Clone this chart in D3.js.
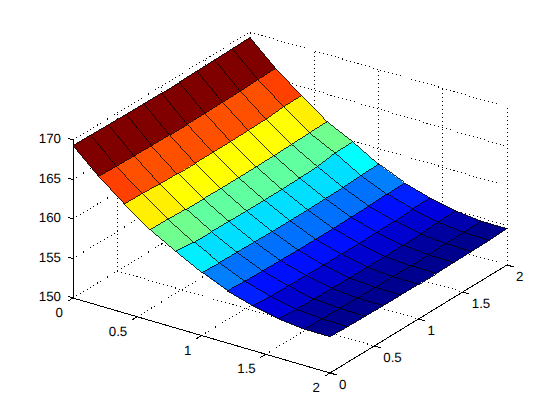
<!DOCTYPE html>
<html>
<head>
<meta charset="utf-8">
<script src="https://cdn.jsdelivr.net/npm/d3@7/dist/d3.min.js"></script>
<style>
html,body{margin:0;padding:0;background:#fff;}
svg{display:block;}
text{font-family:"Liberation Sans",Arial,sans-serif;font-size:13.3px;fill:#000;text-rendering:geometricPrecision;}
</style>
</head>
<body>
<svg id="chart" width="560" height="420"></svg>
<script>
const xValues = [0,0.2,0.4,0.6,0.8,1,1.2,1.4,1.6,1.8,2];
const yValues = [0,0.2,0.4,0.6,0.8,1,1.2,1.4,1.6,1.8,2];
// one row per x value, one column per y value
const zRow0  = [169.3,169.25,169.2,169.15,169.12,169.1,169.12,169.15,169.2,169.25,169.3];
const zRow1  = [166.35,166.25,166.2,166.15,166.12,166.1,166.12,166.15,166.2,166.3,166.35];
const zRow2  = [163.8,163.75,163.6,163.55,163.5,163.5,163.5,163.55,163.6,163.8,163.85];
const zRow3  = [161.5,161.45,161.35,161.3,161.25,161.25,161.25,161.3,161.35,161.45,161.5];
const zRow4  = [159.7,159.5,159.45,159.4,159.35,159.35,159.35,159.4,159.5,159.85,159.9];
const zRow5  = [158.0,157.85,157.8,157.75,157.7,157.7,157.7,157.75,157.8,157.95,158.0];
const zRow6  = [156.6,156.45,156.4,156.35,156.3,156.3,156.3,156.35,156.4,156.55,156.6];
const zRow7  = [155.65,155.5,155.45,155.4,155.35,155.35,155.35,155.4,155.45,155.6,155.65];
const zRow8  = [154.95,154.8,154.75,154.7,154.65,154.65,154.65,154.7,154.75,154.9,154.95];
const zRow9  = [154.6,154.55,154.5,154.45,154.42,154.42,154.42,154.45,154.5,154.55,154.6];
const zRow10 = [154.6,154.5,154.45,154.42,154.4,154.4,154.4,154.42,154.45,154.5,154.6];
const zMatrix = [zRow0,zRow1,zRow2,zRow3,zRow4,zRow5,zRow6,zRow7,zRow8,zRow9,zRow10];
const xTicks = [0,0.5,1,1.5,2];
const yTicks = [0,0.5,1,1.5,2];
const zTicks = [150,155,160,165,170];

// oblique projection built from one linear scale per screen component
const xToPx = d3.scaleLinear().domain([0,2]).range([0,257]);
const xToPy = d3.scaleLinear().domain([0,2]).range([0,75]);
const yToPx = d3.scaleLinear().domain([0,2]).range([0,177]);
const yToPy = d3.scaleLinear().domain([0,2]).range([0,-108]);
const zToPy = d3.scaleLinear().domain([150,170]).range([0,-158]);
const project = (x,y,z) => [73 + xToPx(x) + yToPx(y), 298 + xToPy(x) + yToPy(y) + zToPy(z)];

// jet colormap, 64 levels
const ramp = v => Math.max(0, Math.min(1, v));
const jet64 = d3.range(64).map(i => {
  const t = (i + 1) / 64;
  const r = ramp(Math.min(4*t - 1.5, -4*t + 4.5));
  const g = ramp(Math.min(4*t - 0.5, -4*t + 3.5));
  const b = ramp(Math.min(4*t + 0.5, -4*t + 2.5));
  return d3.rgb(r*255, g*255, b*255).formatHex();
});
const color = d3.scaleQuantize().domain(d3.extent(zMatrix.flat())).range(jet64);

const svg = d3.select("#chart");
const path = pts => "M" + pts.map(p => p.join(",")).join("L");

// dotted grid on the back walls and the floor
const gridLines = [];
zTicks.slice(1).forEach(z => {
  gridLines.push([[0,0,z],[0,2,z]]);
  gridLines.push([[0,2,z],[2,2,z]]);
});
yTicks.slice(1).forEach(y => {
  gridLines.push([[0,y,150],[0,y,170]]);
  gridLines.push([[0,y,150],[2,y,150]]);
});
xTicks.slice(1).forEach(x => {
  gridLines.push([[x,2,150],[x,2,170]]);
});
xTicks.forEach(x => {
  if (x < 2) gridLines.push([[x,0,150],[x,2,150]]);
});
gridLines.push([[0,2,150],[2,2,150]]);
svg.append("g").selectAll("path").data(gridLines).join("path")
  .attr("d", d => path(d.map(p => project(...p))))
  .attr("fill","none").attr("stroke","#000").attr("stroke-width",1)
  .attr("stroke-dasharray","1 3").attr("shape-rendering","crispEdges");

// axes lines
const axisLines = [
  [[0,0,150],[2,0,150]],
  [[2,0,150],[2,2,150]],
  [[0,0,150],[0,0,170]]
];
xTicks.forEach(x => axisLines.push([[x,0,150],[x,-0.06,150]]));
yTicks.forEach(y => axisLines.push([[2,y,150],[2.05,y,150]]));
zTicks.forEach(z => axisLines.push([[0,0,z],[-0.04,0,z]]));
svg.append("g").selectAll("path").data(axisLines).join("path")
  .attr("d", d => path(d.map(p => project(...p))))
  .attr("fill","none").attr("stroke","#000").attr("stroke-width",1)
  .attr("shape-rendering","crispEdges");

// surface patches, far to near; flat colour from the lowest-index corner
const patches = [];
for (let i = 0; i < xValues.length - 1; i++) {
  for (let j = yValues.length - 2; j >= 0; j--) {
    patches.push({i, j});
  }
}
svg.append("g").selectAll("path").data(patches).join("path")
  .attr("d", ({i,j}) => path([
    project(xValues[i],yValues[j],zMatrix[i][j]),
    project(xValues[i+1],yValues[j],zMatrix[i+1][j]),
    project(xValues[i+1],yValues[j+1],zMatrix[i+1][j+1]),
    project(xValues[i],yValues[j+1],zMatrix[i][j+1])
  ]) + "Z")
  .attr("fill", ({i,j}) => color(zMatrix[i][j]))
  .attr("stroke", ({i,j}) => color(zMatrix[i][j])).attr("stroke-width",0.5)
  .attr("shape-rendering","crispEdges");

// mesh lines, each drawn once
const meshLines = [];
xValues.forEach((x,i) => meshLines.push(yValues.map((y,j) => project(x,y,zMatrix[i][j]))));
yValues.forEach((y,j) => meshLines.push(xValues.map((x,i) => project(x,y,zMatrix[i][j]))));
svg.append("g").selectAll("path").data(meshLines).join("path")
  .attr("d", path)
  .attr("fill","none").attr("stroke","#000").attr("stroke-width",0.8)
  .attr("shape-rendering","crispEdges");

// tick labels
svg.append("g").selectAll("text").data(zTicks).join("text")
  .attr("x", z => project(0,0,z)[0] - 12)
  .attr("y", z => project(0,0,z)[1] + 3)
  .attr("text-anchor","end").text(d => d);
svg.append("g").selectAll("text").data(xTicks).join("text")
  .attr("x", x => project(x,0,150)[0] - 10)
  .attr("y", x => project(x,0,150)[1] + 19)
  .attr("text-anchor","end").text(d => d);
svg.append("g").selectAll("text").data(yTicks).join("text")
  .attr("x", y => project(2,y,150)[0] + 9)
  .attr("y", y => project(2,y,150)[1] + 16)
  .attr("text-anchor","start").text(d => d);
</script>
</body>
</html>
